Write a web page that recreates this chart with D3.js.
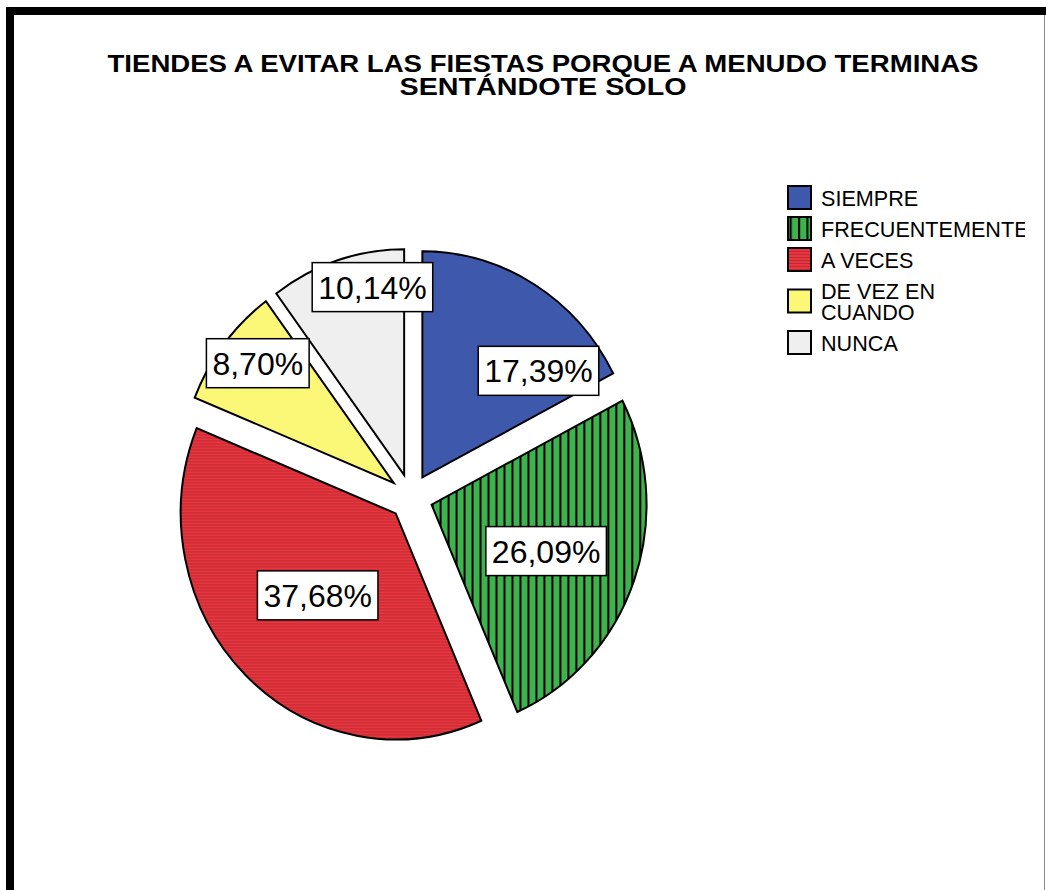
<!DOCTYPE html>
<html>
<head>
<meta charset="utf-8">
<script src="https://cdn.jsdelivr.net/npm/d3@7"></script>
<style>
  body { margin: 0; background: #fff; }
  svg { display: block; font-family: Arial, "Liberation Sans", sans-serif; }
</style>
</head>
<body>
<svg id="chart" width="1046" height="890"></svg>
<script>
// Data (percent of 69 answers)
const titleLines = ["TIENDES A EVITAR LAS FIESTAS PORQUE A MENUDO TERMINAS", "SENTÁNDOTE SOLO"];
const categories = ["SIEMPRE", "FRECUENTEMENTE", "A VECES", "DE VEZ EN CUANDO", "NUNCA"];
const percents = [17.39, 26.09, 37.68, 8.70, 10.14];
const labels = ["17,39%", "26,09%", "37,68%", "8,70%", "10,14%"];

// Layout / style
const fills = ["#3e58ac", "url(#stripesV)", "url(#stripesH)", "#fbf877", "#efefef"];
const titleWidths = [871, 287];   // the title is drawn wide, like the original
const cx = 411, cy = 497;
const radius = 226;
const squash = 0.951;     // the pie is a bit narrower than tall
const explode = 23;
// label placement: angle shift (deg) and distance as a fraction of the radius
const labelShift = [17.6, 1.5, 0.7, 2.1, 8.2];
const labelFrac = [0.717, 0.571, 0.513, 0.825, 0.845];

const svg = d3.select("#chart");
const defs = svg.append("defs");

// vertical black stripes on green
const pv = defs.append("pattern")
  .attr("id", "stripesV")
  .attr("patternUnits", "userSpaceOnUse")
  .attr("width", 8.4).attr("height", 10);
pv.append("rect").attr("width", 8.4).attr("height", 10).attr("fill", "#3cb44b");
pv.append("rect").attr("x", 0).attr("width", 2.1).attr("height", 10).attr("fill", "#000");

// fine horizontal darker lines on red
const ph = defs.append("pattern")
  .attr("id", "stripesH")
  .attr("patternUnits", "userSpaceOnUse")
  .attr("width", 10).attr("height", 3);
ph.append("rect").attr("width", 10).attr("height", 3).attr("fill", "#e6363f");
ph.append("rect").attr("y", 2).attr("width", 10).attr("height", 1).attr("fill", "#c22831");

defs.append("clipPath").attr("id", "legendClip")
  .append("rect").attr("x", 780).attr("y", 170).attr("width", 245).attr("height", 220);

// frame
svg.append("rect").attr("x", 6).attr("y", 7).attr("width", 1040).attr("height", 8).attr("fill", "#000");
svg.append("rect").attr("x", 6).attr("y", 7).attr("width", 8).attr("height", 883).attr("fill", "#000");
svg.append("line")
  .attr("x1", 1044.5).attr("x2", 1044.5).attr("y1", 15).attr("y2", 890)
  .attr("stroke", "#888").attr("stroke-width", 1);

// title
svg.selectAll("text.title")
  .data(titleLines)
  .enter()
  .append("text")
  .attr("class", "title")
  .attr("x", 543)
  .attr("y", (d, i) => 72 + i * 23)
  .attr("text-anchor", "middle")
  .attr("font-size", 24)
  .attr("font-weight", "bold")
  .attr("textLength", (d, i) => titleWidths[i])
  .attr("lengthAdjust", "spacingAndGlyphs")
  .text(d => d);

// pie
const pie = d3.pie().sort(null).value(d => d);
const arcs = pie(percents);
const arc = d3.arc().innerRadius(0).outerRadius(radius);

const pieG = svg.append("g")
  .attr("transform", `translate(${cx},${cy}) scale(${squash},1)`);

pieG.selectAll("path")
  .data(arcs)
  .enter()
  .append("path")
  .attr("transform", d => {
    const a = (d.startAngle + d.endAngle) / 2;
    return `translate(${explode * Math.sin(a)},${-explode * Math.cos(a)})`;
  })
  .attr("d", arc)
  .attr("fill", (d, i) => fills[i])
  .attr("stroke", "#000")
  .attr("stroke-width", 2)
  .attr("stroke-linejoin", "miter")
  .attr("vector-effect", "non-scaling-stroke");

// value labels in white boxes
const labelG = svg.append("g");
arcs.forEach((d, i) => {
  const mid = (d.startAngle + d.endAngle) / 2;
  const a = mid + labelShift[i] * Math.PI / 180;
  const r = labelFrac[i] * radius;
  const px = cx + squash * (explode * Math.sin(mid) + r * Math.sin(a));
  const py = cy - explode * Math.cos(mid) - r * Math.cos(a);

  const g = labelG.append("g");
  const box = g.append("rect");
  const t = g.append("text")
    .attr("x", px).attr("y", py)
    .attr("dy", "0.36em")
    .attr("text-anchor", "middle")
    .attr("font-size", 32)
    .attr("fill", "#000")
    .text(labels[i]);
  const w = t.node().getComputedTextLength();
  box.attr("x", px - w / 2 - 6).attr("y", py - 24.5)
    .attr("width", w + 12).attr("height", 49)
    .attr("fill", "#fff")
    .attr("stroke", "#000")
    .attr("stroke-width", 1.5);
});

// legend
const legend = svg.append("g").attr("clip-path", "url(#legendClip)");
const legX = 788, textX = 821, lineH = 21, maxW = 1025 - 821, legFont = 21.6;
let yPos = 187;
categories.forEach((name, i) => {
  // word wrap to the legend width
  const probe = legend.append("text").attr("font-size", legFont);
  const words = name.split(" ");
  const lines = [];
  let cur = "";
  words.forEach(wd => {
    const test = cur ? cur + " " + wd : wd;
    probe.text(test);
    if (cur && probe.node().getComputedTextLength() > maxW) {
      lines.push(cur);
      cur = wd;
    } else {
      cur = test;
    }
  });
  lines.push(cur);
  probe.remove();

  const h = 10 + lineH * lines.length;
  const mid = yPos + h / 2 - 5;
  legend.append("rect")
    .attr("x", legX).attr("y", mid - 11.5)
    .attr("width", 23).attr("height", 23)
    .attr("fill", fills[i])
    .attr("stroke", "#000")
    .attr("stroke-width", 2);
  legend.append("text")
    .attr("font-size", legFont)
    .attr("fill", "#000")
    .selectAll("tspan")
    .data(lines)
    .enter()
    .append("tspan")
    .attr("x", textX)
    .attr("y", (l, j) => mid + 8 - (lines.length - 1) * lineH / 2 + j * lineH)
    .text(l => l);
  yPos += h;
});
</script>
</body>
</html>
